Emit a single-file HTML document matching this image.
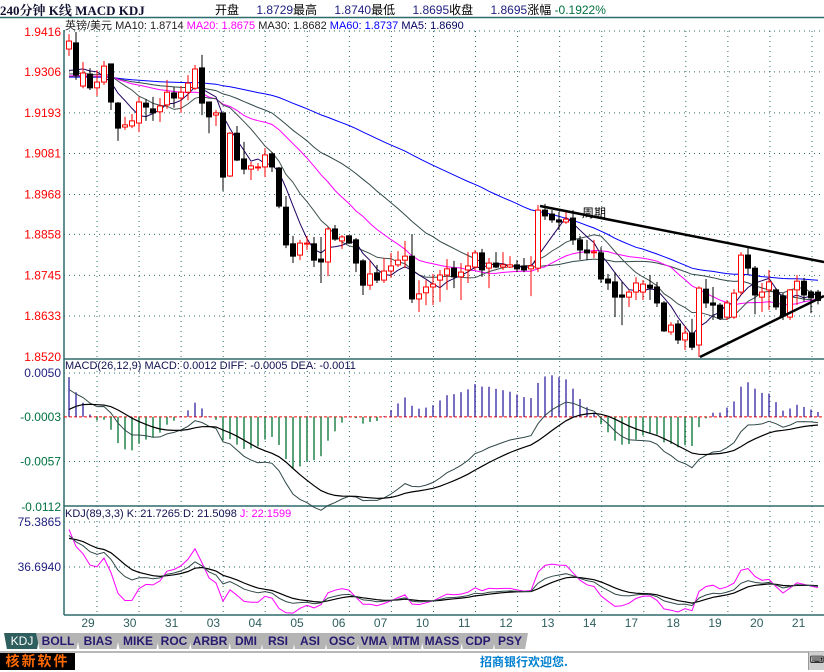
<!DOCTYPE html>
<html><head><meta charset="utf-8"><style>
body{margin:0;background:#fff;width:824px;height:670px;overflow:hidden;font-family:"Liberation Sans","Noto Sans CJK SC",sans-serif;}
#wrap{position:relative;width:824px;height:670px;}
.t{position:absolute;white-space:nowrap;}
</style></head><body><div id="wrap">
<svg id="svg" width="824" height="670" style="position:absolute;left:0;top:0"></svg>
<div class="t" style="left:0;top:0;font:bold 13px 'Liberation Serif','Noto Serif CJK SC',serif;color:#101030">240分钟 K线 MACD KDJ</div>
<div class="t" style="left:215px;top:1px;font-size:12px;color:#000">开盘 <span style="color:#202080;margin-left:14px">1.8729</span>最高 <span style="color:#202080;margin-left:14px">1.8740</span>最低 <span style="color:#202080;margin-left:14px">1.8695</span>收盘 <span style="color:#202080;margin-left:14px">1.8695</span>涨幅 <span style="color:#007040">-0.1922%</span></div>
<div class="t" style="left:65px;top:17px;font-size:11px;color:#202020">英镑/美元 MA10: 1.8714 <span style="color:#ff00ff">MA20: 1.8675</span> MA30: 1.8682 <span style="color:#0000ff">MA60: 1.8737</span> <span style="color:#000060">MA5: 1.8690</span></div>
<div class="t" style="left:65px;top:360px;font-size:11px;color:#101050">MACD(26,12,9) MACD: 0.0012 DIFF: -0.0005 DEA: -0.0011</div>
<div class="t" style="left:65px;top:508px;font-size:11px;color:#101050">KDJ(89,3,3) K: 21.7265 D: 21.5098 <span style="color:#ff00ff">J: 22.1599</span></div>
<div class="t" style="left:582px;top:204px;font-size:12px;color:#000">周期</div>
<div id="tabs"></div>
<div class="t" style="left:0;top:651px;width:824px;height:19px;border-top:2px solid #b8b8b8;background:#fff"></div>
<div class="t" style="left:0;top:653px;width:75px;height:17px;background:#000;color:#ff6a00;font:bold 14px 'Noto Sans CJK SC',sans-serif;line-height:17px;letter-spacing:2px;text-align:center">核新软件</div>
<div class="t" style="left:480px;top:653px;font:bold 12px 'Noto Sans CJK SC',sans-serif;color:#0080d0">招商银行欢迎您.</div>
<div class="t" style="left:808px;top:652px;width:16px;height:18px;background:#d0d0d0;border-left:1px solid #999;font-size:10px;line-height:18px;text-align:center">⌨</div>
</div>
<script>
const opens=[1.9369,1.9386,1.9267,1.9300,1.9262,1.9278,1.9328,1.9220,1.9154,1.9157,1.9165,1.9220,1.9204,1.9196,1.9215,1.9248,1.9234,1.9250,1.9261,1.9317,1.9223,1.9187,1.9193,1.9019,1.9137,1.9066,1.9038,1.9044,1.9044,1.9080,1.9041,1.8933,1.8832,1.8801,1.8834,1.8832,1.8790,1.8782,1.8873,1.8840,1.8854,1.8843,1.8785,1.8718,1.8752,1.8732,1.8757,1.8774,1.8787,1.8798,1.8680,1.8697,1.8713,1.8732,1.8746,1.8765,1.8741,1.8760,1.8768,1.8807,1.8765,1.8779,1.8768,1.8768,1.8774,1.8771,1.8763,1.8765,1.8925,1.8914,1.8898,1.8892,1.8903,1.8843,1.8815,1.8810,1.8807,1.8735,1.8727,1.8691,1.8685,1.8699,1.8699,1.8718,1.8713,1.8669,1.8589,1.8611,1.8567,1.8586,1.8553,1.8707,1.8669,1.8663,1.8630,1.8630,1.8699,1.8801,1.8765,1.8685,1.8705,1.8705,1.8688,1.8630,1.8705,1.8729,1.8699,1.8699];
const closes=[1.9391,1.9297,1.9303,1.9262,1.9278,1.9322,1.9223,1.9151,1.9160,1.9171,1.9223,1.9209,1.9193,1.9212,1.9250,1.9234,1.9250,1.9275,1.9314,1.9220,1.9182,1.9193,1.9016,1.9137,1.9063,1.9038,1.9047,1.9044,1.9077,1.9044,1.8936,1.8829,1.8798,1.8834,1.8834,1.8787,1.8782,1.8873,1.8845,1.8851,1.8834,1.8779,1.8718,1.8749,1.8732,1.8757,1.8771,1.8787,1.8798,1.8680,1.8694,1.8713,1.8721,1.8746,1.8763,1.8741,1.8754,1.8771,1.8807,1.8760,1.8779,1.8768,1.8774,1.8774,1.8763,1.8760,1.8771,1.8925,1.8909,1.8898,1.8892,1.8900,1.8843,1.8815,1.8807,1.8810,1.8735,1.8724,1.8685,1.8685,1.8699,1.8724,1.8721,1.8710,1.8669,1.8592,1.8608,1.8567,1.8586,1.8547,1.8710,1.8669,1.8663,1.8627,1.8669,1.8696,1.8801,1.8765,1.8691,1.8699,1.8727,1.8658,1.8633,1.8705,1.8729,1.8691,1.8683,1.8676];
const highs=[1.9410,1.9416,1.9333,1.9316,1.9311,1.9336,1.9328,1.9223,1.9182,1.9190,1.9237,1.9231,1.9237,1.9234,1.9284,1.9264,1.9267,1.9297,1.9325,1.9353,1.9223,1.9201,1.9193,1.9140,1.9157,1.9113,1.9058,1.9055,1.9096,1.9085,1.9044,1.8964,1.8854,1.8843,1.8854,1.8851,1.8851,1.8878,1.8884,1.8856,1.8856,1.8848,1.8790,1.8785,1.8774,1.8793,1.8807,1.8812,1.8840,1.8859,1.8732,1.8732,1.8749,1.8760,1.8790,1.8785,1.8779,1.8809,1.8815,1.8818,1.8793,1.8809,1.8809,1.8798,1.8787,1.8793,1.8798,1.8939,1.8942,1.8925,1.8920,1.8920,1.8925,1.8854,1.8843,1.8843,1.8823,1.8749,1.8754,1.8727,1.8705,1.8740,1.8732,1.8746,1.8727,1.8674,1.8616,1.8622,1.8605,1.8625,1.8715,1.8735,1.8713,1.8669,1.8677,1.8707,1.8809,1.8823,1.8771,1.8724,1.8760,1.8710,1.8696,1.8707,1.8746,1.8738,1.8705,1.8705];
const lows=[1.9350,1.9284,1.9261,1.9256,1.9240,1.9270,1.9201,1.9116,1.9146,1.9151,1.9140,1.9171,1.9171,1.9168,1.9204,1.9207,1.9193,1.9228,1.9256,1.9187,1.9137,1.9157,1.8978,1.9016,1.9060,1.9024,1.9008,1.9033,1.9016,1.9030,1.8930,1.8820,1.8779,1.8787,1.8815,1.8768,1.8724,1.8743,1.8840,1.8818,1.8832,1.8754,1.8691,1.8705,1.8724,1.8724,1.8738,1.8768,1.8765,1.8669,1.8644,1.8663,1.8663,1.8672,1.8705,1.8710,1.8677,1.8724,1.8760,1.8741,1.8710,1.8765,1.8760,1.8765,1.8754,1.8754,1.8688,1.8754,1.8898,1.8890,1.8870,1.8887,1.8829,1.8788,1.8787,1.8793,1.8724,1.8705,1.8630,1.8608,1.8658,1.8677,1.8677,1.8677,1.8658,1.8589,1.8581,1.8556,1.8539,1.8539,1.8520,1.8655,1.8622,1.8622,1.8622,1.8625,1.8691,1.8746,1.8638,1.8644,1.8650,1.8650,1.8622,1.8622,1.8663,1.8672,1.8641,1.8665];
// values before the visible window (estimated from the starting levels of the indicators)
const priorClose=[1.9290];
const priorRange=[1.9540,1.9080];
const priceTicks=["1.9416","1.9306","1.9193","1.9081","1.8968","1.8858","1.8745","1.8633","1.8520"];
const macdTicks=["0.0050","-0.0003","-0.0057","-0.0112"];
const kdjTicks=["75.3865","36.6940"];
const dateLabels=["29","30","31","03","04","05","06","07","10","11","12","13","14","17","18","19","20","21"];
const tabNames=["KDJ","BOLL","BIAS","MIKE","ROC","ARBR","DMI","RSI","ASI","OSC","VMA","MTM","MASS","CDP","PSY"];

const NS="http://www.w3.org/2000/svg",svg=document.getElementById('svg');
function mk(tag,attrs,name){const e=document.createElementNS(NS,tag);for(const k in attrs)e.setAttribute(k,attrs[k]);

svg.appendChild(e);return e;}
const L=64,R=824;
const xOf=i=>69+7*i;
const pY=p=>32+(1.9416-p)*(325/0.0896);
const mY=v=>373+(0.0050-v)*(134/0.0162);
const kY=v=>522+(75.3865-v)*(45/38.6925);
const axis="#2e6b6b";
mk('line',{x1:0,y1:17.5,x2:824,y2:17.5,stroke:axis,'stroke-width':1.5},'header-rule');
mk('line',{x1:L,y1:30,x2:L,y2:615,stroke:axis,'stroke-width':1.5},'y-axis-line');
mk('line',{x1:L,y1:359,x2:R,y2:359,stroke:axis,'stroke-width':1.5},'price-pane-border');
mk('line',{x1:L,y1:506,x2:R,y2:506,stroke:axis,'stroke-width':1.5},'macd-pane-border');
mk('line',{x1:L,y1:615,x2:R,y2:615,stroke:axis,'stroke-width':1.5},'x-axis-line');
const dot={stroke:axis,'stroke-width':1,'stroke-dasharray':'1,4'};
mk('line',Object.assign({x1:L,y1:31,x2:R,y2:31},dot),'top-grid-line');
for(let k=0;k<18;k++){const gx=97+42.06*k;if(gx>R)break;
mk('line',Object.assign({x1:gx,y1:31,x2:gx,y2:615},dot),'v-grid-line');}
priceTicks.forEach((t,i)=>{const y=pY(+t);if(i>0&&i<priceTicks.length-1)mk('line',Object.assign({x1:L,y1:y,x2:R,y2:y},dot),'price-grid-line');
const e=mk('text',{x:61,y:y+4,'text-anchor':'end','font-size':12,fill:'#ff0000','font-family':'Liberation Sans'},'price-tick-label');e.textContent=t;});
macdTicks.forEach((t,i)=>{const y=mY(+t);if(i!==1&&i<3)mk('line',Object.assign({x1:L,y1:y,x2:R,y2:y},dot),'macd-grid-line');
const e=mk('text',{x:61,y:y+4,'text-anchor':'end','font-size':12,fill:i===0?'#202080':'#007040','font-family':'Liberation Sans'},'macd-tick-label');e.textContent=t;});
kdjTicks.forEach(t=>{const y=kY(+t);mk('line',Object.assign({x1:L,y1:y,x2:R,y2:y},dot),'kdj-grid-line');
const e=mk('text',{x:61,y:y+4,'text-anchor':'end','font-size':12,fill:'#202080','font-family':'Liberation Sans'},'kdj-tick-label');e.textContent=t;});
dateLabels.forEach((d,k)=>{const e=mk('text',{x:88+41.8*k,y:627,'text-anchor':'middle','font-size':12,fill:'#2e5e5e','font-family':'Liberation Sans'},'date-label');e.textContent=d;});
// MAs (windows padded with prior level)
function ma(n){return closes.map((c,i)=>{let s=0;for(let j=i-n+1;j<=i;j++)s+=j<0?priorClose[0]:closes[j];return s/n;});}
function poly(arr,f,col,w,name){mk('polyline',{points:arr.map((v,i)=>xOf(i)+','+f(v).toFixed(1)).join(' '),fill:'none',stroke:col,'stroke-width':w},name);}
poly(ma(60),pY,'#0000ff',1,'ma60-line');
poly(ma(30),pY,'#304848',1,'ma30-line');
poly(ma(20),pY,'#ff00ff',1,'ma20-line');
poly(ma(10),pY,'#405050',1,'ma10-line');
poly(ma(5),pY,'#200060',1,'ma5-line');
closes.forEach((c,i)=>{const o=opens[i],x=xOf(i),up=c>=o,col=up?'#ff0000':'#000';
mk('line',{x1:x,y1:pY(highs[i]),x2:x,y2:pY(lows[i]),stroke:col,'stroke-width':1},'candle-wick');
const y1=pY(Math.max(o,c)),h=Math.max(1,pY(Math.min(o,c))-y1);
mk('rect',{x:x-2.5,y:y1,width:5,height:h,fill:up?'#fff':'#000',stroke:col,'stroke-width':1},up?'candle-up':'candle-down');});
mk('line',{x1:540,y1:206,x2:824,y2:262,stroke:'#000','stroke-width':2.5},'resistance-trendline');
mk('line',{x1:700,y1:357,x2:824,y2:296,stroke:'#000','stroke-width':2.5},'support-trendline');
// MACD
function ema(arr,n,init){let r=[],e=init;arr.forEach(v=>{e=(2*v+(n-1)*e)/(n+1);r.push(e);});return r;}
const e12=ema(closes,12,priorClose[0]+0.0035),e26=ema(closes,26,priorClose[0]+0.0005);
const diff=closes.map((c,i)=>e12[i]-e26[i]-0.0003);
const dea=ema(diff,9,0.0000);
mk('line',{x1:L,y1:mY(-0.0003),x2:R,y2:mY(-0.0003),stroke:'#ff0000','stroke-width':1,'stroke-dasharray':'3,2'},'macd-zero-line');
diff.forEach((d,i)=>{const v=2*(d-dea[i]);mk('line',{x1:xOf(i),y1:mY(-0.0003),x2:xOf(i),y2:mY(-0.0003+v),stroke:v>=0?'#3020a0':'#007030','stroke-width':1.3},'macd-bar');});
poly(diff,mY,'#304848',1,'diff-line');
poly(dea,mY,'#000',1.2,'dea-line');
// KDJ
let K=[],D=[],J=[],k=62,dd=60;
closes.forEach((c,i)=>{const s=Math.max(0,i-88);let hh=Math.max(...highs.slice(s,i+1)),ll=Math.min(...lows.slice(s,i+1));
if(i<60){hh=Math.max(hh,priorRange[0]);ll=Math.min(ll,priorRange[1]);}
const rsv=hh>ll?(c-ll)/(hh-ll)*100:50;k=(2*k+rsv)/3;dd=(2*dd+k)/3;K.push(k);D.push(dd);J.push(3*k-2*dd);});
poly(J,v=>Math.min(614,kY(v)),'#ff00ff',1,'j-line');
poly(D,kY,'#000',1.2,'d-line');
poly(K,kY,'#304848',1,'k-line');
const tabs=document.getElementById('tabs');let tx=4;
tabNames.forEach((n,i)=>{const w=n.length*8+12;const d=document.createElement('div');


d.className='t';d.textContent=n;
d.style.cssText=`left:${tx}px;top:633px;width:${w}px;height:16px;line-height:16px;text-align:center;font-size:12px;font-weight:${i?'bold':'normal'};background:${i?'#b4b4b4':'#2e5e5e'};color:${i?'#281870':'#ffffff'};clip-path:polygon(0 0,100% 0,92% 100%,8% 100%)`;
tabs.appendChild(d);tx+=w-4;});
</script></body></html>
